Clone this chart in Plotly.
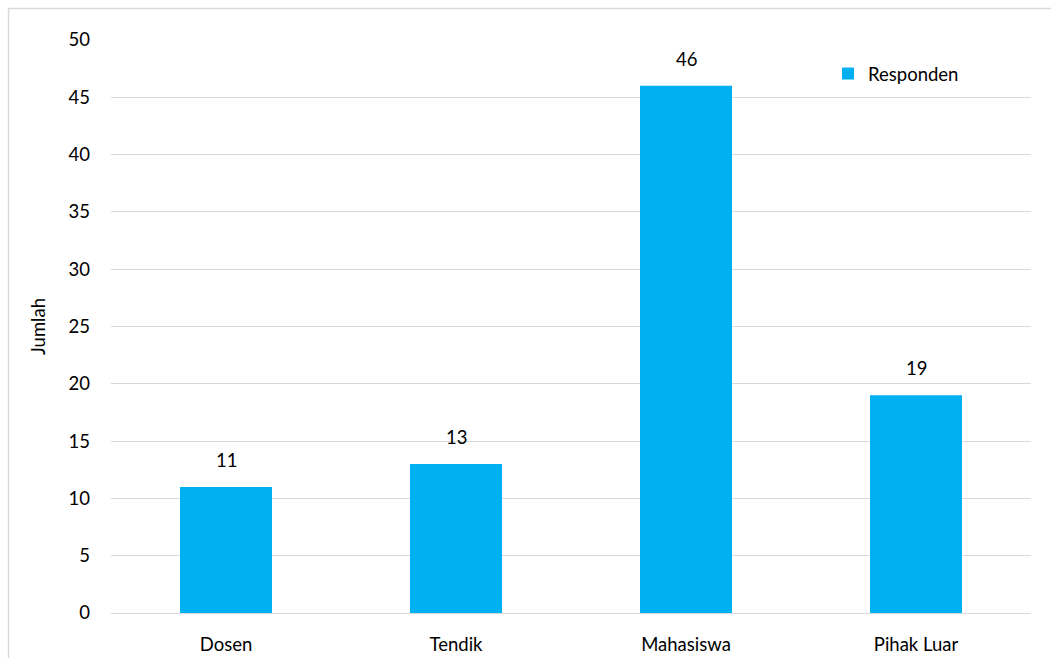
import plotly.graph_objects as go

categories = ["Dosen", "Tendik", "Mahasiswa", "Pihak Luar"]
values = [11, 13, 46, 19]
y_ticks = [0, 5, 10, 15, 20, 25, 30, 35, 40, 45, 50]
series_name = "Responden"
y_title = "Jumlah"

FONT = "Lato"
FS = 18.5
W, H = 1051, 658
L, R, T, B = 111, 20, 40, 45
pw, ph = W - L - R, H - T - B

def px_x(x):
    return (x - L) / pw

def px_y(y):
    return (H - B - y) / ph

fig = go.Figure()
fig.add_trace(go.Bar(
    x=categories, y=values, name=series_name,
    marker=dict(color="#00b0f0", line=dict(width=0)),
    width=0.4,
))

for c, v in zip(categories, values):
    fig.add_annotation(x=c, y=v, text=str(v), showarrow=False,
                       yanchor="bottom", yshift=14,
                       font=dict(family=FONT, size=FS, color="#000000"))

fig.update_layout(
    width=W, height=H,
    margin=dict(l=L, r=R, t=T, b=B, autoexpand=False),
    paper_bgcolor="white", plot_bgcolor="white",
    font=dict(family=FONT, size=FS, color="#000000"),
    showlegend=True,
    legend=dict(x=px_x(828), y=px_y(55), xanchor="left", yanchor="top",
                bgcolor="rgba(0,0,0,0)", font=dict(family=FONT, size=FS),
                itemwidth=30),
    xaxis=dict(showgrid=False, showline=True, linecolor="#d9d9d9", linewidth=1,
               ticks="", ticklabelstandoff=15, automargin=False,
               tickfont=dict(family=FONT, size=FS)),
    yaxis=dict(range=[0, 50], tickvals=y_ticks, showgrid=True, gridcolor="#d9d9d9",
               gridwidth=1, zeroline=False, showline=False, ticks="",
               ticklabelstandoff=20, automargin=False,
               tickfont=dict(family=FONT, size=FS),
               title=dict(text=y_title, font=dict(family=FONT, size=FS), standoff=18)),
    bargap=0.6,
    shapes=[dict(type="rect", xref="paper", yref="paper",
                 x0=px_x(8.5), x1=px_x(1060), y0=px_y(670), y1=px_y(8.5),
                 line=dict(color="#d9d9d9", width=1.5), fillcolor="rgba(0,0,0,0)",
                 layer="below")],
)

fig.write_html("out.html")
